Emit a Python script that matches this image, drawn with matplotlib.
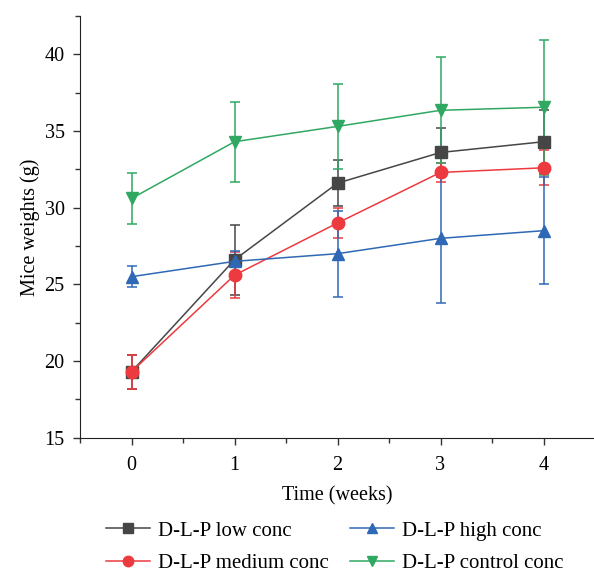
import numpy as np
import matplotlib.pyplot as plt
from matplotlib.lines import Line2D
from matplotlib.ticker import MultipleLocator

plt.rcParams['font.family'] = ['Liberation Serif', 'DejaVu Serif']

weeks = [0, 1, 2, 3, 4]

low = [19.3, 26.6, 31.6, 33.6, 34.3]
low_err = [1.1, 2.3, 1.5, 1.6, 2.1]
medium = [19.3, 25.6, 29.0, 32.3, 32.6]
medium_err = [1.1, 1.5, 1.0, 0.6, 1.15]
high = [25.5, 26.5, 27.0, 28.0, 28.5]
high_err = [0.7, 0.7, 2.8, 4.2, 3.5]
control = [30.6, 34.3, 35.3, 36.35, 36.55]
control_err = [1.65, 2.6, 2.75, 3.45, 4.4]

series = [
    ('D-L-P low conc', low, low_err, '#464646', 's'),
    ('D-L-P medium conc', medium, medium_err, '#ec3a3f', 'o'),
    ('D-L-P high conc', high, high_err, '#2f68b5', '^'),
    ('D-L-P control conc', control, control_err, '#30a862', 'v'),
]

fig = plt.figure(figsize=(5.94, 5.74), dpi=100)
ax = fig.add_axes([80/594, 136.3/574, 515/594, 421.7/574])

handles = []
for name, vals, err, col, mk in series:
    ax.errorbar(weeks, vals, yerr=err, color=col, marker=mk, markersize=9,
                linewidth=1.1, elinewidth=1.1, capsize=3.5, capthick=1.1)
    # legend entry without the error bar
    handles.append(Line2D([], [], color=col, marker=mk, markersize=7.5,
                          linewidth=1.1, label=name))

ax.set_xlim(-0.5, 4.5)
ax.set_ylim(15, 42.5)
ax.xaxis.set_major_locator(MultipleLocator(1))
ax.xaxis.set_minor_locator(MultipleLocator(0.5))
ax.yaxis.set_major_locator(MultipleLocator(5))
ax.yaxis.set_minor_locator(MultipleLocator(2.5))
ax.tick_params(which='both', direction='out', labelsize=14.5, width=1, color='#333333')
ax.tick_params(which='major', length=5)
ax.tick_params(which='minor', length=3.5)
ax.tick_params(axis='x', pad=8)
ax.tick_params(axis='y', pad=6)
ax.spines['top'].set_visible(False)
ax.spines['right'].set_visible(False)
ax.spines['left'].set_color('#222222')
ax.spines['bottom'].set_color('#222222')

ax.set_xlabel('Time (weeks)', fontsize=14.5, labelpad=8)
ax.set_ylabel('Mice weights (g)', fontsize=14.5, labelpad=3)

fig.legend(handles=handles, loc='center', bbox_to_anchor=(335/594, 1 - 547/574),
           ncol=2, frameon=False, fontsize=15, handlelength=2.1,
           handletextpad=0.4, columnspacing=1.0, labelspacing=0.6,
           borderpad=0)

fig.savefig('out.png', dpi=100)
